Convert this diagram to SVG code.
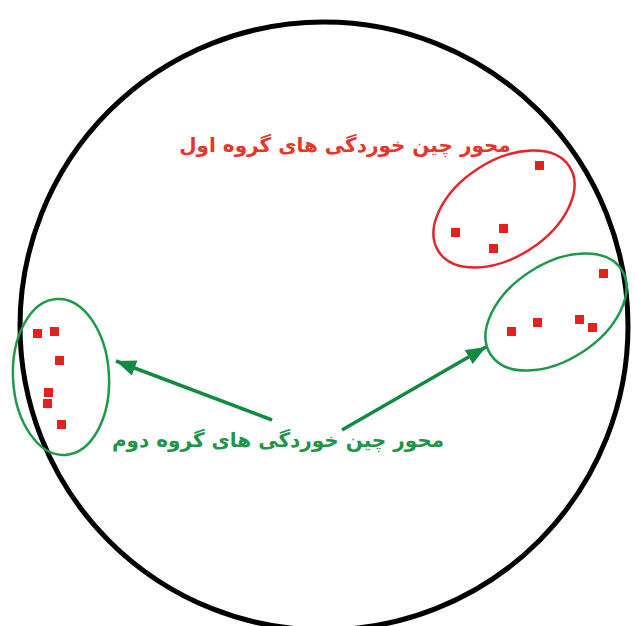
<svg xmlns="http://www.w3.org/2000/svg" width="635" height="626" viewBox="0 0 635 626">
<style>
.pt{fill:#e3221f}
.lbl{font-family:"DejaVu Sans",sans-serif;font-weight:bold;font-size:20px;direction:rtl}
.conn{stroke:#138a42;stroke-width:3.5;fill:none}
</style>
<defs>
<marker id="ah" markerUnits="userSpaceOnUse" markerWidth="24" markerHeight="18" refX="20" refY="8" orient="auto">
<path d="M0,0 L20,8 L0,16 Z" fill="#138a42"/>
</marker>
</defs>
<rect width="635" height="626" fill="#fff"/>
<g id="boundary">
<circle cx="324" cy="326" r="304" fill="none" stroke="#000" stroke-width="5"/>
</g>
<g id="group1">
<ellipse cx="504" cy="209" rx="78" ry="48" transform="rotate(-33 504 209)" fill="none" stroke="#e3262b" stroke-width="2.5"/>
<rect class="pt" x="535" y="161" width="9" height="9"/>
<rect class="pt" x="451" y="228" width="9" height="9"/>
<rect class="pt" x="499" y="224" width="9" height="9"/>
<rect class="pt" x="489" y="244" width="9" height="9"/>
</g>
<g id="group2right">
<ellipse cx="556" cy="312" rx="78" ry="48" transform="rotate(-33 556 312)" fill="none" stroke="#1c9a4a" stroke-width="2.5"/>
<rect class="pt" x="599" y="269" width="9" height="9"/>
<rect class="pt" x="507" y="327" width="9" height="9"/>
<rect class="pt" x="533" y="318" width="9" height="9"/>
<rect class="pt" x="575" y="315" width="9" height="9"/>
<rect class="pt" x="588" y="323" width="9" height="9"/>
</g>
<g id="group2left">
<ellipse cx="61" cy="377" rx="48" ry="78" transform="rotate(-3 61 377)" fill="none" stroke="#1c9a4a" stroke-width="2.5"/>
<rect class="pt" x="33" y="329" width="9" height="9"/>
<rect class="pt" x="50" y="327" width="9" height="9"/>
<rect class="pt" x="55" y="356" width="9" height="9"/>
<rect class="pt" x="44" y="388" width="9" height="9"/>
<rect class="pt" x="43" y="399" width="9" height="9"/>
<rect class="pt" x="57" y="420" width="9" height="9"/>
</g>
<g id="connectors">
<line class="conn" x1="272" y1="420" x2="116" y2="361" marker-end="url(#ah)"/>
<line class="conn" x1="342" y1="430" x2="486" y2="347" marker-end="url(#ah)"/>
</g>
<g id="label1">
<text class="lbl" x="345" y="152" text-anchor="middle" fill="#e8352c">محور چین خوردگی های گروه اول</text>
</g>
<g id="label2">
<text class="lbl" x="278" y="447" text-anchor="middle" fill="#1f9548">محور چین خوردگی های گروه دوم</text>
</g>
</svg>
